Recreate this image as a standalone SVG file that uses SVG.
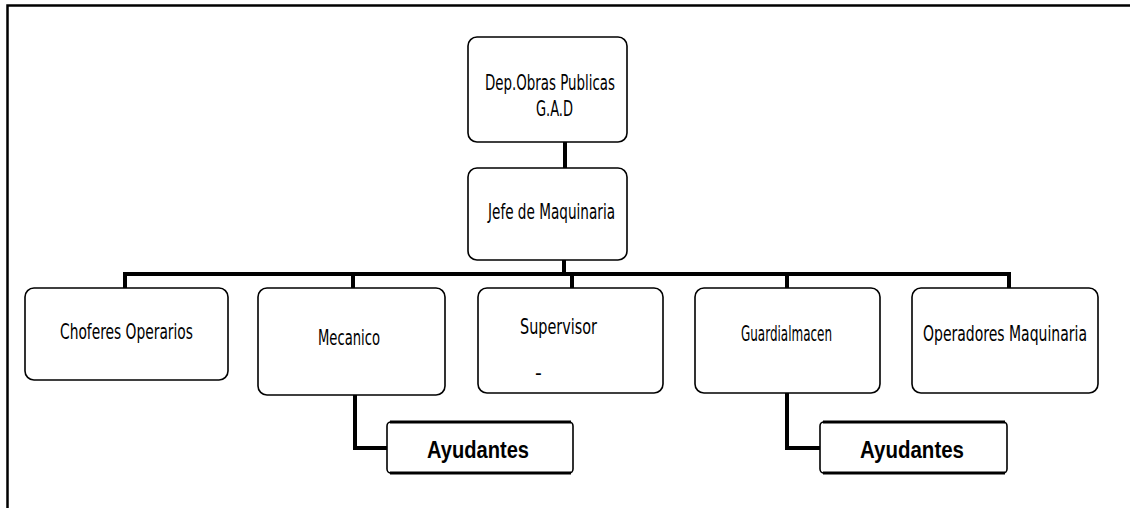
<svg xmlns="http://www.w3.org/2000/svg" width="1130" height="508" viewBox="0 0 1130 508">
<style>
.box{fill:#fff;stroke:#000;stroke-width:1.6}
.t{font-family:"Liberation Sans Narrow","DejaVu Sans Condensed","Liberation Sans",sans-serif;font-size:21px;fill:#000}
.b{font-family:"Liberation Sans Narrow","Liberation Sans","DejaVu Sans",sans-serif;font-size:23px;font-weight:bold;fill:#000}
.c{fill:none;stroke:#000;stroke-width:4}
.thick{stroke:#000;stroke-width:3}
</style>
<rect x="0" y="0" width="1130" height="508" fill="#fff"/>
<path d="M7.5,508 V5.5 H1130" fill="none" stroke="#000" stroke-width="2.5"/>
<g id="connectors">
<path class="c" d="M565,142 V170"/>
<path class="c" d="M564,260 V274"/>
<path class="c" d="M125,274 H1009"/>
<path class="c" d="M125,272 V288 M353,272 V288 M572,272 V288 M787,272 V288 M1009,272 V288"/>
<path class="c" stroke-width="5" d="M355,395 V448 H388"/>
<path class="c" stroke-width="5" d="M787,393 V448 H821"/>
</g>
<g id="node-dep">
<rect class="box" x="468" y="37" width="159" height="105" rx="9"/>
<text class="t" x="485" y="90" textLength="130" lengthAdjust="spacingAndGlyphs">Dep.Obras Publicas</text>
<text class="t" x="536" y="116" textLength="37" lengthAdjust="spacingAndGlyphs">G.A.D</text>
</g>
<g id="node-jefe">
<rect class="box" x="468" y="168" width="159" height="92" rx="9"/>
<text class="t" x="488" y="219" textLength="127" lengthAdjust="spacingAndGlyphs">Jefe de Maquinaria</text>
</g>
<g id="node-choferes">
<rect class="box" x="25" y="288" width="203" height="92" rx="9"/>
<text class="t" x="60" y="339" textLength="133" lengthAdjust="spacingAndGlyphs">Choferes Operarios</text>
</g>
<g id="node-mecanico">
<rect class="box" x="258" y="288" width="187" height="107" rx="9"/>
<text class="t" x="318" y="345" textLength="62" lengthAdjust="spacingAndGlyphs">Mecanico</text>
</g>
<g id="node-supervisor">
<rect class="box" x="478" y="288" width="185" height="105" rx="9"/>
<text class="t" x="520" y="334" textLength="77" lengthAdjust="spacingAndGlyphs">Supervisor</text>
<text class="t" x="535" y="380" font-size="12">-</text>
</g>
<g id="node-guardialmacen">
<rect class="box" x="695" y="288" width="185" height="105" rx="9"/>
<text class="t" x="741" y="341" textLength="91" lengthAdjust="spacingAndGlyphs">Guardialmacen</text>
</g>
<g id="node-operadores">
<rect class="box" x="912" y="288" width="186" height="105" rx="9"/>
<text class="t" x="923" y="341" textLength="164" lengthAdjust="spacingAndGlyphs">Operadores Maquinaria</text>
</g>
<g id="node-ayudantes1">
<rect class="box" x="387" y="422" width="186" height="51" rx="4"/>
<path class="thick" d="M390,422 H571 M390,473 H571"/>
<text class="b" x="427" y="458" textLength="102" lengthAdjust="spacingAndGlyphs">Ayudantes</text>
</g>
<g id="node-ayudantes2">
<rect class="box" x="820" y="422" width="187" height="51" rx="4"/>
<path class="thick" d="M823,422 H1005 M823,473 H1005"/>
<text class="b" x="860" y="458" textLength="104" lengthAdjust="spacingAndGlyphs">Ayudantes</text>
</g>
</svg>
